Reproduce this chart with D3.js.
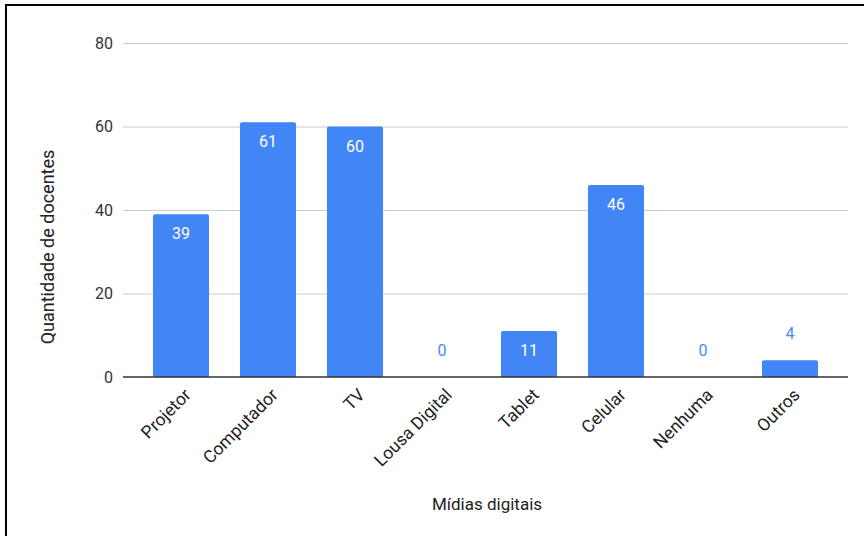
<!DOCTYPE html>
<html><head><meta charset="utf-8">
<script src="https://cdn.jsdelivr.net/npm/d3@7"></script>
<style>body{margin:0;background:#fff}svg{display:block;font-family:Roboto,Arial,sans-serif}</style>
</head><body><svg id="c" width="864" height="536"></svg>
<script>
const categories = ["Projetor","Computador","TV","Lousa Digital","Tablet","Celular","Nenhuma","Outros"];
const values = [39,61,60,0,11,46,0,4];
const yTicks = [0,20,40,60,80];
const yTitle = "Quantidade de docentes";
const xTitle = "Mídias digitais";

const svg = d3.select("#c");
svg.append("rect").attr("width",864).attr("height",536).attr("fill","#fff");
svg.append("rect").attr("x",6).attr("y",5).attr("width",880).attr("height",560)
  .attr("fill","none").attr("stroke","#000").attr("stroke-width",2);

const y = d3.scaleLinear().domain([0,80]).range([377,43]);
const x = d3.scaleBand().domain(categories).range([137.5,833.5]).paddingInner(0.356).paddingOuter(0.178);
const gx0 = 123, gx1 = 848;

const grid = svg.append("g");
grid.selectAll("line").data(yTicks.filter(d=>d>0)).join("line")
  .attr("x1",gx0).attr("x2",gx1).attr("y1",d=>y(d)+0.5).attr("y2",d=>y(d)+0.5)
  .attr("stroke","#cccccc").attr("stroke-width",1);

const yAxis = d3.axisLeft(y).tickValues(yTicks).tickSize(0).tickPadding(10);
const ga = svg.append("g").attr("transform",`translate(${gx0},0)`).call(yAxis);
ga.select(".domain").remove();
ga.selectAll("text").attr("font-size",16).attr("fill","#333").attr("font-family","Roboto,Arial,sans-serif");

const bw = x.bandwidth();
svg.append("g").selectAll("path").data(categories.map((c,i)=>({c,v:values[i]})).filter(d=>d.v>0)).join("path")
  .attr("fill","#4285F4")
  .attr("d",d=>{
    const x0 = x(d.c), x1 = x0+bw, y0 = y(d.v), yb = y(0), r = 2;
    return `M${x0},${yb}V${y0+r}Q${x0},${y0} ${x0+r},${y0}H${x1-r}Q${x1},${y0} ${x1},${y0+r}V${yb}Z`;
  });

svg.append("line").attr("x1",gx0).attr("x2",gx1).attr("y1",y(0)).attr("y2",y(0))
  .attr("stroke","#333").attr("stroke-width",1.3);

svg.append("g").selectAll("text").data(categories.map((c,i)=>({c,v:values[i]}))).join("text")
  .attr("x",d=>x(d.c)+bw/2)
  .attr("y",d=>d.v>=10 ? y(d.v)+25 : y(d.v)-21)
  .attr("text-anchor","middle").attr("font-size",16)
  .attr("fill",d=>d.v>=10 ? "#fff" : "#4a8af4")
  .text(d=>d.v);

svg.append("g").selectAll("text").data(categories).join("text")
  .attr("transform",d=>`translate(${x(d)+bw/2+11},${y(0)+19}) rotate(-45)`)
  .attr("text-anchor","end").attr("font-size",17.5).attr("fill","#222")
  .text(d=>d);

svg.append("text").attr("transform","translate(54,247) rotate(-90)")
  .attr("text-anchor","middle").attr("font-size",18).attr("fill","#222").text(yTitle);
svg.append("text").attr("x",487).attr("y",510)
  .attr("text-anchor","middle").attr("font-size",17).attr("fill","#222").text(xTitle);
</script></body></html>
